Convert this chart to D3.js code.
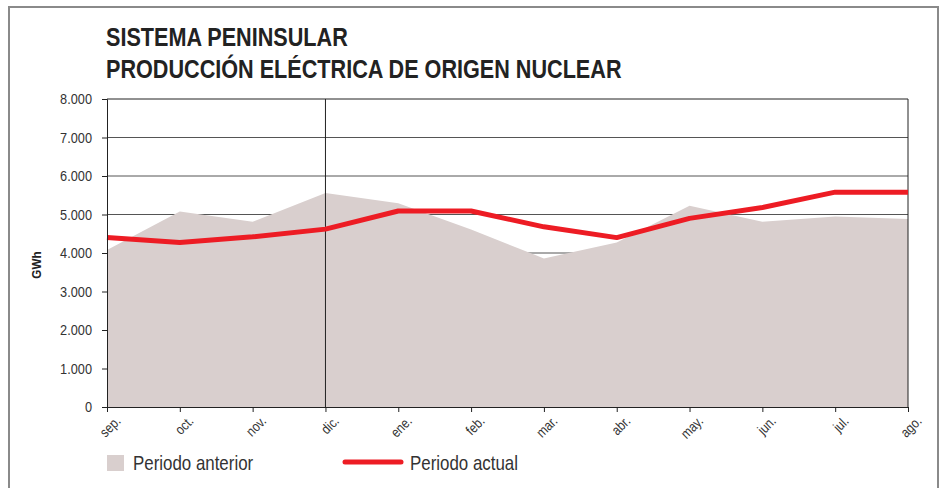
<!doctype html>
<html>
<head>
<meta charset="utf-8">
<style type="text/css">
html,body{
    margin: 0;
    overflow: hidden;
    background: #fff;
}
text {
    font-family: "Liberation Sans", Arial, sans-serif;
}
</style>
<script type="text/javascript" src="https://cdn.jsdelivr.net/npm/d3@7"></script>
</head>
<body>
<script type="text/javascript">
// months of the campaign (sep -> ago)
var months = ["sep.", "oct.", "nov.", "dic.", "ene.", "feb.", "mar.", "abr.", "may.", "jun.", "jul.", "ago."];
// GWh
var anterior = [4080, 5080, 4810, 5560, 5290, 4610, 3860, 4270, 5230, 4810, 4950, 4880];
var actual   = [4400, 4270, 4420, 4620, 5090, 5090, 4680, 4400, 4900, 5180, 5580, 5580];
var yTicks = [0, 1000, 2000, 3000, 4000, 5000, 6000, 7000, 8000];
var titleLines = ["SISTEMA PENINSULAR", "PRODUCCIÓN ELÉCTRICA DE ORIGEN NUCLEAR"];
var legendLabels = ["Periodo anterior", "Periodo actual"];

(function(){
    var w = 941, h = 488,
        left = 107, right = 908,
        top = 99, bottom = 407,
        narrow = 0.85, // no narrow font installed, squeeze horizontally instead
        areaColor = "#d9cfce",
        redColor = "#ed1c24",
        ink = "#333";

    var svg = d3.select("body").append("svg")
        .attr("width", w)
        .attr("height", h);

    // outer grey frame
    svg.append("rect")
        .attr("x", 9).attr("y", 7)
        .attr("width", 929).attr("height", 495)
        .attr("fill", "none")
        .attr("stroke", "#8a8a8a")
        .attr("stroke-width", 2);

    // title
    svg.append("g")
        .attr("transform", "translate(106,0) scale(0.865,1)")
        .selectAll("text")
        .data(titleLines)
        .enter().append("text")
            .attr("x", 0)
            .attr("y", function(d, i){ return 46 + i*32; })
            .attr("font-weight", "bold")
            .attr("font-size", 25)
            .attr("fill", "#222")
            .text(function(d){ return d; });

    var x = d3.scalePoint().domain(months).range([left, right]);
    var y = d3.scaleLinear().domain([0, 8000]).range([bottom, top]);
    var fmt = function(d){ return d === 0 ? "0" : d3.format(",")(d).replace(/,/g, "."); };

    // horizontal gridlines (under the area)
    svg.append("g")
        .selectAll("line")
        .data(yTicks.filter(function(d){ return d > 0; }))
        .enter().append("line")
            .attr("x1", left).attr("x2", right)
            .attr("y1", function(d){ return y(d); })
            .attr("y2", function(d){ return y(d); })
            .attr("stroke", function(d){ return d === 8000 ? "#222" : "#555"; })
            .attr("stroke-width", 1);

    // periodo anterior area
    var area = d3.area()
        .x(function(d, i){ return x(months[i]); })
        .y0(y(0))
        .y1(function(d){ return y(d); });
    svg.append("path")
        .datum(anterior)
        .attr("d", area)
        .attr("fill", areaColor);

    // right border and dic. separator
    svg.append("line")
        .attr("x1", right).attr("x2", right)
        .attr("y1", top).attr("y2", bottom)
        .attr("stroke", "#222");
    svg.append("line")
        .attr("x1", x("dic.")).attr("x2", x("dic."))
        .attr("y1", top).attr("y2", bottom)
        .attr("stroke", "#222");

    // periodo actual line
    var line = d3.line()
        .x(function(d, i){ return x(months[i]); })
        .y(function(d){ return y(d); });
    svg.append("path")
        .datum(actual)
        .attr("d", line)
        .attr("fill", "none")
        .attr("stroke", redColor)
        .attr("stroke-width", 5)
        .attr("stroke-linejoin", "round");

    // y axis
    var yAxis = svg.append("g")
        .attr("transform", "translate(" + left + ",0)")
        .call(d3.axisLeft(y).tickValues(yTicks).tickFormat(fmt).tickSize(5).tickPadding(0));
    yAxis.select(".domain").attr("stroke", "#222");
    yAxis.selectAll(".tick line").attr("stroke", "#222");
    yAxis.selectAll("text")
        .attr("font-size", 15)
        .attr("fill", ink)
        .attr("x", -15 / narrow)
        .attr("transform", "scale(" + narrow + ",1)")
        .style("font-family", "'Liberation Sans', Arial, sans-serif");

    // x axis
    var xAxis = svg.append("g")
        .attr("transform", "translate(0," + bottom + ")")
        .call(d3.axisBottom(x).tickSize(5).tickFormat(function(d){ return d; }));
    xAxis.select(".domain").attr("stroke", "#222");
    xAxis.selectAll(".tick line").attr("stroke", "#222");
    xAxis.selectAll("text")
        .attr("font-size", 14)
        .attr("fill", ink)
        .attr("text-anchor", "end")
        .attr("dy", null)
        .attr("y", null)
        .attr("transform", "translate(14,15) rotate(-45) scale(" + narrow + ",1)")
        .style("font-family", "'Liberation Sans', Arial, sans-serif");

    // y axis title
    svg.append("text")
        .attr("transform", "translate(41,265) rotate(-90) scale(0.9,1)")
        .attr("text-anchor", "middle")
        .attr("font-size", 13)
        .attr("font-weight", "bold")
        .attr("fill", "#222")
        .text("GWh");

    // legend
    var legend = svg.append("g");
    legend.append("rect")
        .attr("x", 107).attr("y", 455)
        .attr("width", 17).attr("height", 16)
        .attr("fill", areaColor);
    legend.append("text")
        .attr("transform", "translate(133,470) scale(0.845,1)")
        .attr("font-size", 20)
        .attr("fill", ink)
        .text(legendLabels[0]);
    legend.append("line")
        .attr("x1", 345).attr("x2", 401)
        .attr("y1", 462).attr("y2", 462)
        .attr("stroke", redColor)
        .attr("stroke-width", 5)
        .attr("stroke-linecap", "round");
    legend.append("text")
        .attr("transform", "translate(410,470) scale(0.845,1)")
        .attr("font-size", 20)
        .attr("fill", ink)
        .text(legendLabels[1]);
})();
</script>
</body>
</html>
